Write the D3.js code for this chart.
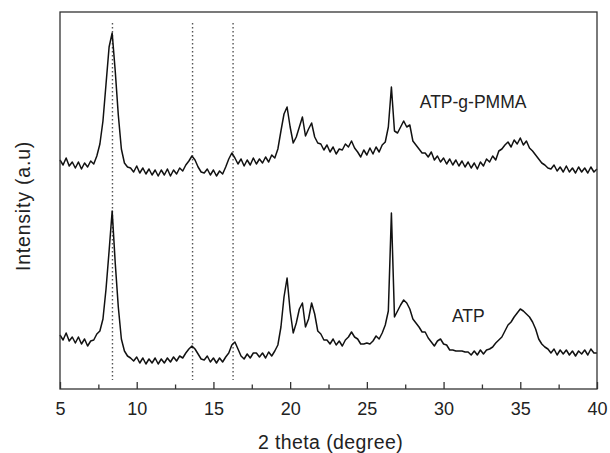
<!DOCTYPE html>
<html>
<head>
<meta charset="utf-8" />
<title>XRD ATP / ATP-g-PMMA</title>
<script src="https://cdn.jsdelivr.net/npm/d3@7"></script>
<style>
  body { margin: 0; background: #fff; }
  text { font-family: "Liberation Sans", Arial, sans-serif; fill: #222; }
</style>
</head>
<body>
<script>

  var width = 610;
  var height = 453;
  var margin = { top: 12, right: 13, bottom: 64, left: 60 };

  // 2 theta from 5 to 40 deg, step 0.2 (one row below = 1 degree)
  var twoTheta = d3.range(0, 176).map(function(i){ return +(5 + i * 0.2).toFixed(1); });

  // ATP-g-PMMA pattern (stacked, a.u.)
  var pmma = [
    229,224,231,223,227,
    221,227,220,226,222,
    228,225,233,245,268,
    305,342,356,318,274,
    240,226,222,221,217,
    223,216,221,215,220,
    214,219,213,219,214,
    220,213,219,215,221,
    218,224,228,233,229,
    222,217,216,220,214,
    219,213,218,215,222,
    230,236,231,225,230,
    223,229,224,231,225,
    230,226,232,227,234,
    231,240,258,275,282,
    262,246,252,262,272,
    253,260,266,252,246,
    245,239,244,237,242,
    235,240,239,245,242,
    248,241,237,232,239,
    234,241,235,242,237,
    244,247,262,302,258,
    256,262,268,262,264,
    248,244,240,236,236,
    232,237,229,233,227,
    231,225,230,224,229,
    223,228,222,227,221,
    226,220,227,223,230,
    227,233,229,238,240,
    244,247,242,249,245,
    251,244,248,241,238,
    234,230,226,224,221,
    220,224,218,222,217,
    223,217,221,216,222,
    217,221,216,222,217,
    220
  ];

  // ATP pattern (a.u.)
  var atp = [
    54,49,56,48,52,
    46,52,45,50,43,
    48,49,55,58,70,
    100,138,178,126,82,
    50,38,33,31,28,
    32,26,31,25,30,
    26,31,25,30,26,
    31,27,32,28,33,
    31,36,40,43,40,
    35,30,29,33,27,
    31,26,31,27,32,
    36,44,47,40,33,
    30,35,31,36,36,
    32,36,31,37,33,
    38,44,62,92,111,
    78,56,66,80,86,
    62,70,86,75,58,
    55,49,49,45,50,
    44,48,43,49,52,
    57,52,50,45,45,
    46,45,48,53,50,
    56,64,78,176,72,
    78,84,89,86,80,
    70,66,62,57,57,
    51,47,43,48,50,
    45,44,39,39,38,
    38,38,37,37,34,
    38,34,39,35,39,
    40,42,46,49,52,
    58,64,67,72,76,
    80,78,75,72,67,
    60,50,45,42,40,
    36,40,34,39,35,
    39,34,38,33,38,
    35,39,34,40,36,
    36
  ];

  var refLines = [8.42, 13.64, 16.28];
  var xTicks = [5, 10, 15, 20, 25, 30, 35, 40];
  var xMinor = [7.5, 12.5, 17.5, 22.5, 27.5, 32.5, 37.5];
  var labels = [
    { text: 'ATP-g-PMMA', x: 28.45, y: 281 },
    { text: 'ATP', x: 30.55, y: 67 }
  ];

  var plotW = width - margin.left - margin.right;
  var plotH = height - margin.top - margin.bottom;

  var xScale = d3.scaleLinear().domain([5, 40]).range([0, plotW]);
  var yScale = d3.scaleLinear().domain([0, 377]).range([plotH, 0]);

  var svg = d3.select('body').append('svg').attr('width', width).attr('height', height);
  var g = svg.append('g').attr('transform', 'translate(' + margin.left + ',' + margin.top + ')');

  // dotted reference lines
  g.selectAll('.ref').data(refLines).enter().append('line')
    .attr('class', 'ref')
    .attr('x1', function(d){ return xScale(d); })
    .attr('x2', function(d){ return xScale(d); })
    .attr('y1', 11).attr('y2', plotH - 9)
    .attr('stroke', '#555').attr('stroke-width', 1.4)
    .attr('stroke-dasharray', '1.4,2.6');

  var line = d3.line()
    .x(function(d, i){ return xScale(twoTheta[i]); })
    .y(function(d){ return yScale(d); });

  [pmma, atp].forEach(function(s){
    g.append('path').datum(s)
      .attr('fill', 'none')
      .attr('stroke', '#111')
      .attr('stroke-width', 1.5)
      .attr('stroke-linejoin', 'round')
      .attr('d', line);
  });

  // frame
  g.append('rect').attr('width', plotW).attr('height', plotH)
    .attr('fill', 'none').attr('stroke', '#333').attr('stroke-width', 1.3);

  // bottom axis, ticks pointing inward
  var xAxis = d3.axisBottom(xScale).tickValues(xTicks).tickSize(-7).tickPadding(13)
    .tickFormat(d3.format('d'));
  var ax = g.append('g').attr('transform', 'translate(0,' + plotH + ')').call(xAxis);
  ax.select('.domain').remove();
  ax.selectAll('line').attr('stroke', '#333').attr('stroke-width', 1.3);
  ax.selectAll('text').attr('font-size', 18).attr('fill', '#222')
    .style('font-family', '"Liberation Sans", Arial, sans-serif');

  var minor = d3.axisBottom(xScale).tickValues(xMinor).tickSize(-4.5).tickFormat('');
  var mx = g.append('g').attr('transform', 'translate(0,' + plotH + ')').call(minor);
  mx.select('.domain').remove();
  mx.selectAll('line').attr('stroke', '#333').attr('stroke-width', 1.3);

  // series labels
  g.selectAll('.lbl').data(labels).enter().append('text')
    .attr('class', 'lbl')
    .attr('x', function(d){ return xScale(d.x); })
    .attr('y', function(d){ return yScale(d.y); })
    .attr('font-size', 17.5)
    .text(function(d){ return d.text; });

  // axis titles
  svg.append('text')
    .attr('x', margin.left + plotW / 2 + 2).attr('y', 449)
    .attr('text-anchor', 'middle').attr('font-size', 19.5)
    .attr('letter-spacing', 0.4)
    .text('2 theta (degree)');

  svg.append('text')
    .attr('transform', 'translate(30,206) rotate(-90)')
    .attr('text-anchor', 'middle').attr('font-size', 19.5)
    .attr('letter-spacing', 0.8)
    .text('Intensity (a.u)');

</script>
</body>
</html>
